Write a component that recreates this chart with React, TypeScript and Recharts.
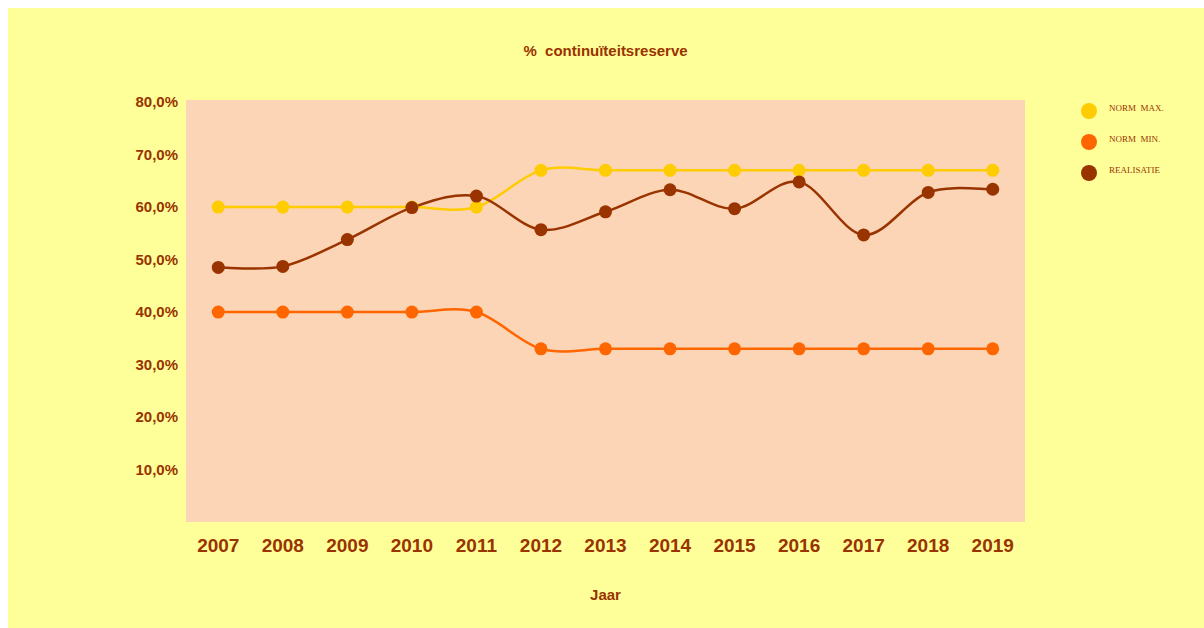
import { LineChart, Line, XAxis, YAxis, CartesianGrid } from 'recharts';

const years = ['2007', '2008', '2009', '2010', '2011', '2012', '2013', '2014', '2015', '2016', '2017', '2018', '2019'];
const normMax = [60, 60, 60, 60, 60, 67, 67, 67, 67, 67, 67, 67, 67];
const normMin = [40, 40, 40, 40, 40, 33, 33, 33, 33, 33, 33, 33, 33];
const realisatie = [48.5, 48.7, 53.8, 59.9, 62.1, 55.7, 59.1, 63.3, 59.7, 64.8, 54.7, 62.8, 63.4];
const yTicks = [10, 20, 30, 40, 50, 60, 70, 80];

const series = [
  { key: 'normMax', name: 'NORM  MAX.', color: '#FFCC00' },
  { key: 'normMin', name: 'NORM  MIN.', color: '#FF6600' },
  { key: 'realisatie', name: 'REALISATIE', color: '#993300' },
];

const data = years.map((jaar, i) => ({
  jaar,
  normMax: normMax[i],
  normMin: normMin[i],
  realisatie: realisatie[i],
}));

const TEXT = '#993300';
const FONT = '"Liberation Sans", Arial, sans-serif';

// Excel-like smoothing (cardinal spline, tension 0)
const smooth = (context: any) => {
  let pts: [number, number][] = [];
  return {
    areaStart() {},
    areaEnd() {},
    lineStart() {
      pts = [];
    },
    lineEnd() {
      const n = pts.length;
      if (!n) return;
      context.moveTo(pts[0][0], pts[0][1]);
      for (let i = 0; i < n - 1; i++) {
        const p0 = pts[Math.max(i - 1, 0)];
        const p1 = pts[i];
        const p2 = pts[i + 1];
        const p3 = pts[Math.min(i + 2, n - 1)];
        context.bezierCurveTo(
          p1[0] + (p2[0] - p0[0]) / 6,
          p1[1] + (p2[1] - p0[1]) / 6,
          p2[0] - (p3[0] - p1[0]) / 6,
          p2[1] - (p3[1] - p1[1]) / 6,
          p2[0],
          p2[1]
        );
      }
    },
    point(x: number, y: number) {
      pts.push([+x, +y]);
    },
  };
};

const fmt = (v: number) => v.toFixed(1).replace('.', ',') + '%';

export default function App() {
  return (
    <div style={{ position: 'relative', width: 1196, height: 620, background: '#FFFF99', fontFamily: FONT }}>
      <style>{'body{overflow:hidden;margin:8px 0 0 8px}'}</style>
      <div
        style={{
          position: 'absolute',
          left: 178,
          width: 839,
          top: 34,
          textAlign: 'center',
          color: TEXT,
          fontWeight: 'bold',
          fontSize: 15,
          whiteSpace: 'pre',
        }}
      >
        {'%  continuïteitsreserve'}
      </div>

      <LineChart width={1196} height={620} data={data} margin={{ top: 92, right: 179, bottom: 26, left: 98 }}>
        <CartesianGrid fill="#FBD5B5" stroke="none" horizontal={false} vertical={false} />
        <XAxis
          dataKey="jaar"
          scale="band"
          height={80}
          axisLine={false}
          tickLine={false}
          tickMargin={11}
          tick={{ fill: TEXT, fontSize: 19, fontWeight: 'bold', fontFamily: FONT }}
          label={{ value: 'Jaar', position: 'insideBottom', offset: 2, fill: TEXT, fontSize: 15, fontWeight: 'bold', fontFamily: FONT }}
        />
        <YAxis
          width={80}
          domain={[0, 80.4]}
          ticks={yTicks}
          axisLine={false}
          tickLine={false}
          tickFormatter={fmt}
          tick={{ fill: TEXT, fontSize: 15, fontWeight: 'bold', fontFamily: FONT }}
        />
        {series.map((s) => (
          <Line
            key={s.key}
            dataKey={s.key}
            name={s.name}
            type={smooth as any}
            stroke={s.color}
            strokeWidth={2.5}
            dot={{ r: 6.5, fill: s.color, stroke: 'none' }}
            activeDot={false}
            isAnimationActive={false}
          />
        ))}
      </LineChart>

      <div style={{ position: 'absolute', left: 1073, top: 87 }}>
        {series.map((s) => (
          <div key={s.key} style={{ display: 'flex', alignItems: 'center', height: 31 }}>
            <span style={{ width: 16, height: 16, borderRadius: 8, background: s.color, display: 'inline-block' }} />
            <span
              style={{
                marginLeft: 12,
                fontFamily: '"Liberation Serif", "Times New Roman", serif',
                fontSize: 9,
                color: TEXT,
                whiteSpace: 'pre',
                position: 'relative',
                top: -3,
              }}
            >
              {s.name}
            </span>
          </div>
        ))}
      </div>
    </div>
  );
}
